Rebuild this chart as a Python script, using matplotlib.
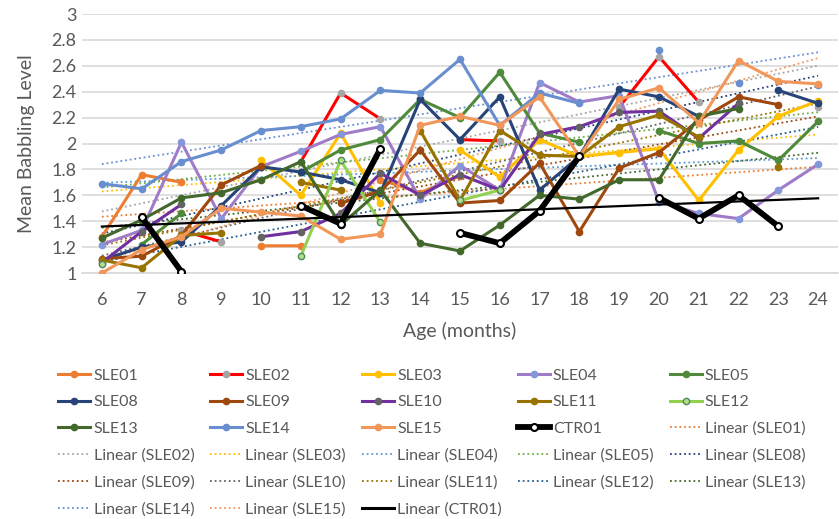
import numpy as np
import matplotlib.pyplot as plt
from matplotlib.lines import Line2D

plt.rcParams['font.family'] = ['Lato', 'DejaVu Sans']

nan = np.nan
months = np.arange(6, 25)

# values (nan = no data at that age)
SLE01 = [1.28, 1.76, 1.70, nan, 1.21, 1.21, nan, 1.72, 1.62, 1.75, nan, nan, nan, nan, nan, nan, nan, nan, nan]
SLE02 = [nan, nan, 1.33, 1.24, nan, 1.86, 2.39, 2.19, nan, 2.03, 2.02, nan, nan, 2.28, 2.67, 2.32, nan, nan, 2.28]
SLE03 = [nan, nan, nan, nan, 1.87, 1.60, 2.08, 1.54, nan, 1.95, 1.74, 2.03, 1.90, 1.93, 1.96, 1.56, 1.95, 2.21, 2.33]
SLE04 = [1.22, 1.33, 2.01, 1.42, 1.82, 1.94, 2.07, 2.13, 1.57, 1.83, 1.64, 2.47, 2.32, 2.37, 1.55, 1.46, 1.42, 1.64, 1.84]
SLE05 = [nan, 1.22, 1.46, nan, nan, 1.78, 1.95, 2.03, 2.34, 2.20, 2.55, 2.08, 2.01, nan, 2.10, 2.00, 2.02, 1.87, 2.17]
SLE08 = [1.10, 1.20, 1.24, 1.52, 1.82, 1.78, 1.72, 1.62, 2.34, 2.03, 2.36, 1.64, 1.90, 2.42, 2.36, 2.21, nan, 2.41, 2.31]
SLE09 = [1.11, 1.13, 1.29, 1.68, 1.83, nan, 1.54, 1.63, 1.95, 1.54, 1.56, 1.85, 1.32, 1.81, 1.93, 2.18, 2.36, 2.30, nan]
SLE10 = [1.08, 1.32, 1.53, nan, 1.28, 1.32, 1.46, 1.77, 1.60, 1.76, 1.64, 2.07, 2.13, 2.24, 2.25, 2.04, 2.31, nan, nan]
SLE11 = [1.10, 1.04, 1.29, 1.31, nan, 1.70, 1.64, nan, 2.10, 1.56, 2.10, 1.91, 1.90, 2.13, 2.22, 2.05, nan, 1.82, nan]
SLE12 = [1.07, nan, nan, nan, nan, 1.13, 1.87, 1.39, nan, 1.56, 1.64, nan, nan, nan, nan, nan, nan, nan, nan]
SLE13 = [1.27, 1.41, 1.58, 1.62, 1.72, 1.86, 1.37, 1.64, 1.23, 1.17, 1.37, 1.60, 1.57, 1.72, 1.72, 2.21, 2.27, nan, nan]
SLE14 = [1.69, 1.65, 1.86, 1.95, 2.10, 2.13, 2.19, 2.41, 2.39, 2.65, 2.14, 2.39, 2.31, nan, 2.72, nan, 2.47, nan, 2.45]
SLE15 = [1.00, 1.18, 1.28, 1.50, 1.47, 1.44, 1.26, 1.30, 2.14, 2.21, 2.14, 2.36, 1.90, 2.34, 2.43, 2.16, 2.64, 2.48, 2.46]
CTR01 = [nan, 1.43, 1.01, nan, nan, 1.52, 1.38, 1.96, nan, 1.31, 1.23, 1.48, 1.90, nan, 1.58, 1.42, 1.60, 1.36, nan]

names = ['SLE01', 'SLE02', 'SLE03', 'SLE04', 'SLE05', 'SLE08', 'SLE09', 'SLE10',
         'SLE11', 'SLE12', 'SLE13', 'SLE14', 'SLE15', 'CTR01']
series = [SLE01, SLE02, SLE03, SLE04, SLE05, SLE08, SLE09, SLE10,
          SLE11, SLE12, SLE13, SLE14, SLE15, CTR01]

# (line colour, marker face, marker edge, trendline colour)
styles = {
    'SLE01': ('#ED7D31', '#ED7D31', '#ED7D31', '#ED7D31'),
    'SLE02': ('#FF0000', '#A5A5A5', '#A5A5A5', '#A5A5A5'),
    'SLE03': ('#FFC000', '#FFC000', '#FFC000', '#FFC000'),
    'SLE04': ('#A07CC8', '#8497DA', '#8497DA', '#5B9BD5'),
    'SLE05': ('#4F8A3B', '#4F8A3B', '#4F8A3B', '#70AD47'),
    'SLE08': ('#264478', '#264478', '#264478', '#264478'),
    'SLE09': ('#9E480E', '#9E480E', '#9E480E', '#9E480E'),
    'SLE10': ('#7030A0', '#636363', '#636363', '#636363'),
    'SLE11': ('#997300', '#997300', '#997300', '#997300'),
    'SLE12': ('#92D050', '#B4DE8C', '#4E8A55', '#255E91'),
    'SLE13': ('#43682B', '#43682B', '#43682B', '#43682B'),
    'SLE14': ('#698ED0', '#698ED0', '#698ED0', '#698ED0'),
    'SLE15': ('#F1975A', '#F1975A', '#F1975A', '#F1975A'),
    'CTR01': ('#000000', '#FFFFFF', '#000000', '#000000'),
}

fig = plt.figure(figsize=(8.39, 5.19), dpi=100)
ax = fig.add_axes([82 / 839, 1 - 273 / 519, 756 / 839, 259 / 519])

grid_c = '#D9D9D9'
text_c = '#595959'

series_handles = []
trend_handles = []
for name, vals in zip(names, series):
    lc, mfc, mec, tc = styles[name]
    y = np.array(vals, dtype=float)
    ok = ~np.isnan(y)

    # linear trendline, as Excel does it
    k, b = np.polyfit(months[ok], y[ok], 1)
    if name == 'CTR01':
        ax.plot(months, k * months + b, '-', color=tc, lw=1.6, zorder=5)
        th = Line2D([], [], color=tc, lw=2.2)
    else:
        ax.plot(months, k * months + b, color=tc, lw=1.3, ls=(0, (1, 1.6)), zorder=2)
        th = Line2D([], [], color=tc, lw=1.3, ls=(0, (1, 1.6)))
    trend_handles.append((th, f'Linear ({name})'))

    if name == 'CTR01':
        ax.plot(months, y, '-', color=lc, lw=4.2, marker='o', ms=5, mfc=mfc, mec=mec, mew=1.5,
                zorder=4, solid_capstyle='round')
        sh = Line2D([], [], color=lc, lw=4.2, marker='o', ms=5, mfc=mfc, mec=mec, mew=1.5)
    else:
        ax.plot(months, y, '-', color=lc, lw=2.2, marker='o', ms=4.5, mfc=mfc, mec=mec, mew=1,
                zorder=3)
        sh = Line2D([], [], color=lc, lw=2.2, marker='o', ms=4.5, mfc=mfc, mec=mec, mew=1)
    series_handles.append((sh, name))

ax.set_xlim(5.5, 24.5)
ax.set_ylim(1, 3)
ax.set_xticks(months)
ax.set_yticks(np.arange(1, 3.01, 0.2))
ax.set_yticklabels(['1', '1.2', '1.4', '1.6', '1.8', '2', '2.2', '2.4', '2.6', '2.8', '3'])
ax.yaxis.grid(True, color=grid_c, lw=1.2)
ax.set_axisbelow(True)
for s in ['top', 'right', 'left']:
    ax.spines[s].set_visible(False)
ax.spines['bottom'].set_color(grid_c)
ax.spines['bottom'].set_linewidth(1.2)
ax.tick_params(axis='both', length=0, labelsize=13, colors=text_c)
ax.tick_params(axis='x', pad=14)
ax.tick_params(axis='y', pad=4)
ax.set_xlabel('Age (months)', fontsize=14, color=text_c, labelpad=10)
ax.set_ylabel('Mean Babbling Level', fontsize=14, color=text_c, labelpad=12)

# legend: Excel fills rows first, matplotlib fills columns first
entries = series_handles + trend_handles
ncol = 5
nrow = int(np.ceil(len(entries) / ncol))
ordered = []
for c in range(ncol):
    for r in range(nrow):
        i = r * ncol + c
        if i < len(entries):
            ordered.append(entries[i])
leg = fig.legend([e[0] for e in ordered], [e[1] for e in ordered],
                 loc='upper left', bbox_to_anchor=(44 / 839, 1 - 354 / 519),
                 ncol=ncol, frameon=False, fontsize=11.5, handlelength=2.0,
                 handletextpad=0.2, columnspacing=1.0, labelspacing=0.78, numpoints=1)
for t in leg.get_texts():
    t.set_color(text_c)

fig.savefig('out.png', dpi=100)
